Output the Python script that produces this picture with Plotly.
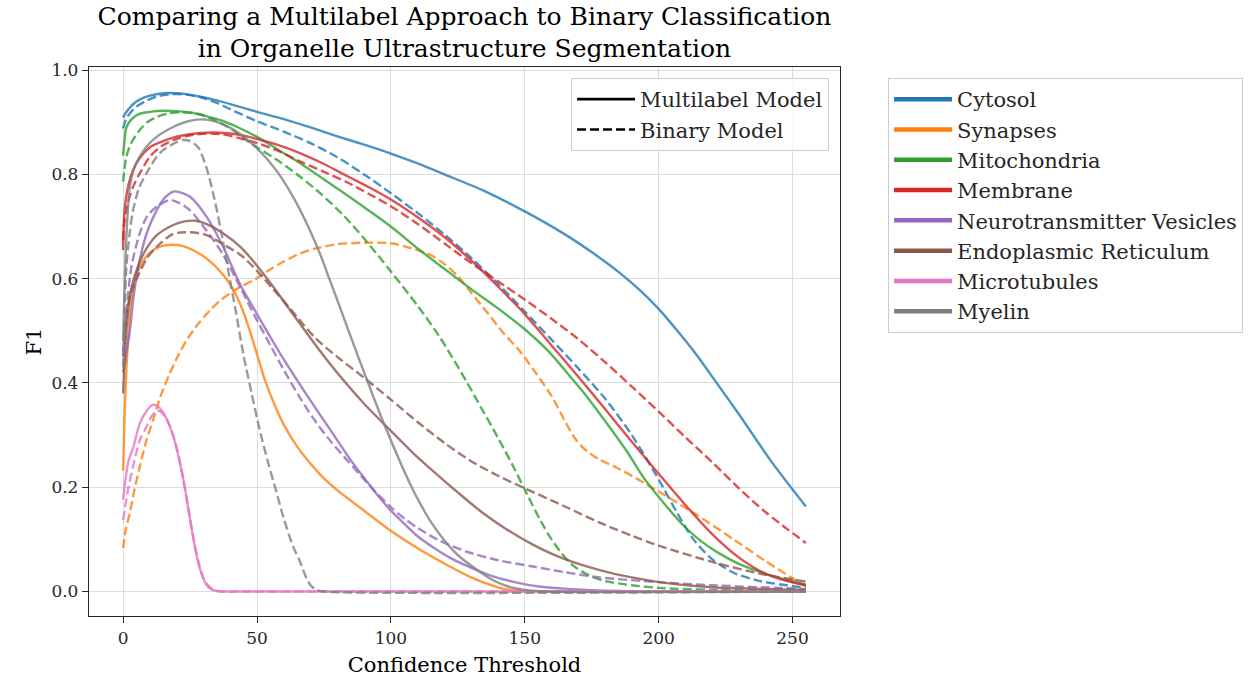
import plotly.graph_objects as go

# ---------------- data ----------------
cytosol_ml_x = [0, 1, 2, 4, 6, 10, 16, 22, 28, 35, 42, 50, 60, 70, 80, 90, 100, 110, 120, 135, 150, 165, 175, 185, 193, 200, 207, 214, 221, 230, 242, 255]
cytosol_ml_y = [0.909, 0.918, 0.925, 0.936, 0.943, 0.951, 0.956, 0.955, 0.95, 0.942, 0.932, 0.92, 0.906, 0.89, 0.873, 0.857, 0.84, 0.821, 0.80, 0.768, 0.729, 0.685, 0.651, 0.613, 0.578, 0.542, 0.50, 0.455, 0.405, 0.34, 0.25, 0.163]
cytosol_bin_x = [0, 1, 2.5, 5, 9, 13, 19, 24, 29, 35, 40, 50, 60, 70, 80, 90, 100, 110, 120, 130, 140, 150, 160, 170, 180, 190, 200, 207, 213, 220, 228, 238, 255]
cytosol_bin_y = [0.888, 0.905, 0.917, 0.93, 0.942, 0.95, 0.954, 0.953, 0.948, 0.937, 0.925, 0.902, 0.882, 0.86, 0.833, 0.80, 0.764, 0.726, 0.685, 0.64, 0.59, 0.537, 0.483, 0.428, 0.37, 0.30, 0.215, 0.15, 0.10, 0.062, 0.036, 0.02, 0.007]

synapses_ml_x = [0, 0.5, 1, 2.5, 4.4, 7, 10, 14, 18, 22, 26, 30, 34, 38, 41, 44, 47, 50, 53, 56, 60, 65, 70, 75, 81, 90, 99, 110, 122, 130, 140, 146, 155, 200, 255]
synapses_ml_y = [0.232, 0.33, 0.40, 0.533, 0.597, 0.63, 0.65, 0.662, 0.665, 0.663, 0.655, 0.643, 0.626, 0.603, 0.58, 0.548, 0.505, 0.455, 0.405, 0.365, 0.32, 0.278, 0.245, 0.217, 0.19, 0.155, 0.12, 0.083, 0.048, 0.027, 0.008, 0.002, 0.0, 0.0, 0.0]
synapses_bin_x = [0, 1, 2.5, 4, 6.2, 8.7, 11.2, 14, 17.4, 20.5, 23.7, 28, 32.4, 36, 40, 44, 48.6, 55, 60, 66, 72, 80, 90, 100, 108, 115, 120, 125, 130, 136, 142, 148, 154, 160, 165, 169, 173, 178, 185, 192, 199, 213, 228, 240, 253, 255]
synapses_bin_y = [0.083, 0.12, 0.15, 0.19, 0.239, 0.29, 0.329, 0.375, 0.418, 0.452, 0.482, 0.513, 0.539, 0.557, 0.572, 0.585, 0.597, 0.618, 0.633, 0.648, 0.658, 0.666, 0.669, 0.668, 0.658, 0.645, 0.628, 0.605, 0.573, 0.535, 0.496, 0.462, 0.42, 0.375, 0.327, 0.292, 0.27, 0.253, 0.236, 0.216, 0.195, 0.151, 0.10, 0.058, 0.016, 0.01]

mito_ml_x = [0, 0.5, 1.2, 3, 6, 10, 15, 20, 25, 30, 37, 43, 50, 58, 66, 72, 80, 90, 100, 110, 121.5, 130, 140, 150, 159, 167, 173, 178, 188, 195, 203, 209, 215, 222, 230, 240, 248, 255]
mito_ml_y = [0.836, 0.865, 0.89, 0.905, 0.916, 0.92, 0.922, 0.921, 0.919, 0.913, 0.903, 0.89, 0.872, 0.847, 0.822, 0.801, 0.773, 0.737, 0.70, 0.658, 0.613, 0.58, 0.543, 0.503, 0.46, 0.412, 0.375, 0.341, 0.27, 0.214, 0.163, 0.128, 0.10, 0.075, 0.053, 0.034, 0.022, 0.013]
mito_bin_x = [0, 0.5, 1.2, 3, 6.2, 9, 12.5, 17, 21, 25, 29, 35, 41, 47, 50, 58, 66, 74, 82, 90, 100, 110, 118, 128, 134, 140, 146, 151, 156, 160, 164, 168, 174, 180, 190, 200, 220, 255]
mito_bin_y = [0.786, 0.81, 0.834, 0.86, 0.885, 0.90, 0.91, 0.917, 0.919, 0.918, 0.915, 0.902, 0.885, 0.862, 0.852, 0.826, 0.796, 0.762, 0.723, 0.677, 0.614, 0.548, 0.49, 0.405, 0.35, 0.295, 0.237, 0.185, 0.135, 0.10, 0.072, 0.05, 0.031, 0.02, 0.012, 0.007, 0.003, 0.001]

memb_ml_x = [0, 0.5, 2, 3.7, 6, 10, 14, 19, 25, 31, 36, 41, 47, 50, 58, 66, 75, 84, 92, 100, 110, 120, 130, 140, 150, 160, 170, 180, 190, 200, 210, 220, 230, 240, 248, 255]
memb_ml_y = [0.655, 0.73, 0.78, 0.808, 0.83, 0.852, 0.862, 0.871, 0.877, 0.88, 0.88, 0.878, 0.872, 0.868, 0.856, 0.841, 0.82, 0.796, 0.775, 0.752, 0.718, 0.68, 0.635, 0.585, 0.532, 0.472, 0.412, 0.35, 0.287, 0.226, 0.166, 0.11, 0.065, 0.034, 0.02, 0.012]
memb_bin_x = [0, 0.5, 2, 3.7, 6, 10, 14, 19, 25, 30, 37, 43, 50, 58, 66, 75, 84, 92, 100, 110, 121.5, 130, 140, 150, 160, 170, 180, 190, 200, 210, 220, 230, 240, 255]
memb_bin_y = [0.674, 0.71, 0.75, 0.776, 0.80, 0.834, 0.853, 0.866, 0.875, 0.878, 0.877, 0.87, 0.86, 0.845, 0.825, 0.805, 0.784, 0.762, 0.739, 0.705, 0.662, 0.63, 0.595, 0.56, 0.523, 0.484, 0.44, 0.393, 0.345, 0.296, 0.248, 0.198, 0.152, 0.093]

neuro_ml_x = [0, 1, 2.5, 4, 6.2, 9, 12.5, 15, 18.7, 21, 25, 31, 37, 43.6, 50, 55, 60, 65, 70, 75, 80, 85, 90, 95, 100, 105, 110, 116, 122, 128, 137, 147, 156, 166, 185, 200, 255]
neuro_ml_y = [0.42, 0.45, 0.50, 0.57, 0.636, 0.69, 0.731, 0.752, 0.767, 0.766, 0.757, 0.72, 0.665, 0.59, 0.532, 0.488, 0.445, 0.405, 0.366, 0.328, 0.29, 0.252, 0.218, 0.185, 0.155, 0.13, 0.106, 0.084, 0.065, 0.05, 0.031, 0.017, 0.009, 0.005, 0.001, 0.0, 0.0]
neuro_bin_x = [0, 1, 3, 6.2, 9, 12.5, 17.4, 21, 25, 31, 37, 43.6, 49, 55, 60, 66, 72, 78, 84, 90, 95, 100, 105, 110, 118, 128, 140, 153, 165, 178, 200, 220, 255]
neuro_bin_y = [0.46, 0.52, 0.62, 0.687, 0.72, 0.738, 0.751, 0.745, 0.731, 0.693, 0.649, 0.585, 0.53, 0.472, 0.425, 0.372, 0.325, 0.285, 0.25, 0.215, 0.187, 0.162, 0.14, 0.122, 0.098, 0.077, 0.06, 0.048, 0.037, 0.027, 0.018, 0.012, 0.005]

er_ml_x = [0, 0.5, 1.5, 3, 6, 9, 12.5, 18.7, 23, 27, 31, 37, 44, 50, 56, 62, 66, 72, 78, 84, 90, 100, 108, 116, 125, 134, 143, 153, 165, 178, 190, 203, 220, 255]
er_ml_y = [0.38, 0.44, 0.52, 0.58, 0.63, 0.66, 0.683, 0.703, 0.71, 0.711, 0.705, 0.688, 0.66, 0.625, 0.585, 0.542, 0.514, 0.472, 0.432, 0.395, 0.36, 0.308, 0.267, 0.23, 0.19, 0.152, 0.12, 0.09, 0.062, 0.041, 0.027, 0.016, 0.008, 0.003]
er_bin_x = [0, 0.5, 1.5, 3, 6, 9, 12.5, 18.7, 25, 31, 37, 44, 50, 56, 62, 66, 72, 80, 90, 100, 110, 120, 130, 140, 150, 165, 178, 190, 200, 222, 240, 255]
er_bin_y = [0.45, 0.49, 0.54, 0.575, 0.61, 0.64, 0.661, 0.686, 0.689, 0.684, 0.667, 0.645, 0.615, 0.58, 0.545, 0.52, 0.485, 0.45, 0.41, 0.368, 0.325, 0.285, 0.25, 0.222, 0.198, 0.163, 0.132, 0.107, 0.088, 0.054, 0.032, 0.019]

micro_ml_x = [0, 1, 2, 3.7, 6.2, 9, 11, 13, 15, 17, 19, 21, 23, 25, 27, 29, 31, 33, 35, 38, 45, 60, 255]
micro_ml_y = [0.176, 0.22, 0.25, 0.275, 0.322, 0.348, 0.358, 0.355, 0.343, 0.322, 0.293, 0.252, 0.20, 0.138, 0.08, 0.038, 0.014, 0.004, 0.001, 0.0, 0.0, 0.0, 0.0]
micro_bin_x = [0, 1, 2, 3.7, 6.2, 8.7, 10.5, 12.5, 14, 16, 18, 20, 22, 24, 26, 28, 30, 32, 34, 37, 45, 60, 255]
micro_bin_y = [0.137, 0.17, 0.2, 0.239, 0.29, 0.316, 0.335, 0.347, 0.345, 0.333, 0.31, 0.275, 0.228, 0.17, 0.11, 0.06, 0.026, 0.01, 0.003, 0.0, 0.0, 0.0, 0.0]

myelin_ml_x = [0, 0.5, 1.2, 2.5, 4, 6.2, 9, 12.5, 18.7, 23, 27.4, 31, 37, 43.6, 47, 50, 54, 58, 62, 66, 70, 73.5, 77, 81, 86, 91.5, 96, 100, 104, 107.5, 111, 115, 120, 125, 132, 138, 143, 150, 160, 255]
myelin_ml_y = [0.48, 0.58, 0.68, 0.776, 0.81, 0.834, 0.855, 0.872, 0.891, 0.90, 0.905, 0.905, 0.897, 0.878, 0.864, 0.85, 0.828, 0.802, 0.77, 0.733, 0.69, 0.648, 0.60, 0.545, 0.475, 0.40, 0.34, 0.29, 0.242, 0.203, 0.168, 0.133, 0.098, 0.07, 0.042, 0.022, 0.011, 0.003, 0.0, 0.0]
myelin_bin_x = [0, 0.5, 1.2, 2.5, 3.7, 6, 8.7, 12, 15, 20, 22.4, 25, 28, 31, 34, 37, 39.8, 42, 44.9, 48, 51, 54, 57.3, 60, 63.5, 66, 68.5, 70, 72.2, 75, 255]
myelin_bin_y = [0.43, 0.53, 0.62, 0.69, 0.731, 0.775, 0.802, 0.83, 0.847, 0.862, 0.866, 0.864, 0.852, 0.815, 0.755, 0.68, 0.60, 0.54, 0.455, 0.38, 0.31, 0.25, 0.19, 0.14, 0.086, 0.058, 0.025, 0.012, 0.003, 0.0, 0.0]

class_names = ["Cytosol", "Synapses", "Mitochondria", "Membrane",
               "Neurotransmitter Vesicles", "Endoplasmic Reticulum", "Microtubules", "Myelin"]
class_colors = ["#1f77b4", "#ff7f0e", "#2ca02c", "#d62728", "#9467bd", "#8c564b", "#e377c2", "#7f7f7f"]
model_names = ["Multilabel Model", "Binary Model"]

x_ticks = [0, 50, 100, 150, 200, 250]
y_ticks = [0.0, 0.2, 0.4, 0.6, 0.8, 1.0]

multilabel = [(cytosol_ml_x, cytosol_ml_y), (synapses_ml_x, synapses_ml_y), (mito_ml_x, mito_ml_y),
              (memb_ml_x, memb_ml_y), (neuro_ml_x, neuro_ml_y), (er_ml_x, er_ml_y),
              (micro_ml_x, micro_ml_y), (myelin_ml_x, myelin_ml_y)]
binary = [(cytosol_bin_x, cytosol_bin_y), (synapses_bin_x, synapses_bin_y), (mito_bin_x, mito_bin_y),
          (memb_bin_x, memb_bin_y), (neuro_bin_x, neuro_bin_y), (er_bin_x, er_bin_y),
          (micro_bin_x, micro_bin_y), (myelin_bin_x, myelin_bin_y)]

FONT = "DejaVu Serif"
DASH = "9px,4px"


def rgba(hexcol, a):
    h = hexcol.lstrip("#")
    return f"rgba({int(h[0:2], 16)},{int(h[2:4], 16)},{int(h[4:6], 16)},{a})"


fig = go.Figure()

for (mx, my), (bx, by), col in zip(multilabel, binary, class_colors):
    fig.add_trace(go.Scatter(x=mx, y=my, mode="lines", showlegend=False, hoverinfo="skip",
                             line=dict(color=rgba(col, 0.8), width=2.4, shape="spline", smoothing=0.8)))
    fig.add_trace(go.Scatter(x=bx, y=by, mode="lines", showlegend=False, hoverinfo="skip",
                             line=dict(color=rgba(col, 0.8), width=2.4, shape="spline", smoothing=0.8,
                                       dash=DASH)))

# style legend (inside the axes)
for name, dash in zip(model_names, ["solid", DASH]):
    fig.add_trace(go.Scatter(x=[None], y=[None], mode="lines", name=name, legend="legend",
                             legendgroup=name, line=dict(color="black", width=2.6, dash=dash)))

# colour legend (outside the axes)
for name, col in zip(class_names, class_colors):
    fig.add_trace(go.Scatter(x=[None], y=[None], mode="lines", name=name, legend="legend2",
                             legendgroup=name, line=dict(color=col, width=4.5)))

W, H = 1251, 683
L, R, T, B = 89, 411, 67, 67

axis_common = dict(showline=True, linecolor="#262626", linewidth=1.3, mirror=True,
                   ticks="outside", ticklen=6, tickwidth=1.3, tickcolor="#262626",
                   showgrid=True, gridcolor="#dcdcdc", gridwidth=1.3, zeroline=False,
                   tickfont=dict(family=FONT, size=17, color="#262626"))

fig.update_layout(
    width=W, height=H,
    margin=dict(l=L, r=R, t=T, b=B, autoexpand=False),
    paper_bgcolor="white", plot_bgcolor="white",
    title=dict(text="Comparing a Multilabel Approach to Binary Classification<br>in Organelle Ultrastructure Segmentation",
               x=0.5, xref="paper", xanchor="center", y=0.964, yref="container", yanchor="top",
               font=dict(family=FONT, size=25, color="black")),
    xaxis=dict(range=[-12.75, 267.75], tickvals=x_ticks, ticktext=[str(v) for v in x_ticks],
               title=dict(text="Confidence Threshold", font=dict(family=FONT, size=21, color="black"), standoff=10),
               automargin=False, **axis_common),
    yaxis=dict(range=[-0.047, 1.006], tickvals=y_ticks, ticktext=[f"{v:.1f}" for v in y_ticks],
               title=dict(text="F1", font=dict(family=FONT, size=21, color="black"), standoff=4),
               automargin=False, **axis_common),
    legend=dict(x=0.9854, y=0.98, xanchor="right", yanchor="top", xref="paper", yref="paper",
                bgcolor="rgba(255,255,255,0.85)", bordercolor="#cccccc", borderwidth=1,
                font=dict(family=FONT, size=21, color="#262626"), tracegroupgap=0, itemwidth=58),
    legend2=dict(x=1.064, y=0.98, xanchor="left", yanchor="top", xref="paper", yref="paper",
                 bgcolor="white", bordercolor="#cccccc", borderwidth=1,
                 font=dict(family=FONT, size=21, color="#262626"), tracegroupgap=0, itemwidth=58),
)

fig.write_html("out.html", config={"displayModeBar": False},
               post_script="document.body.style.margin='0px';")
